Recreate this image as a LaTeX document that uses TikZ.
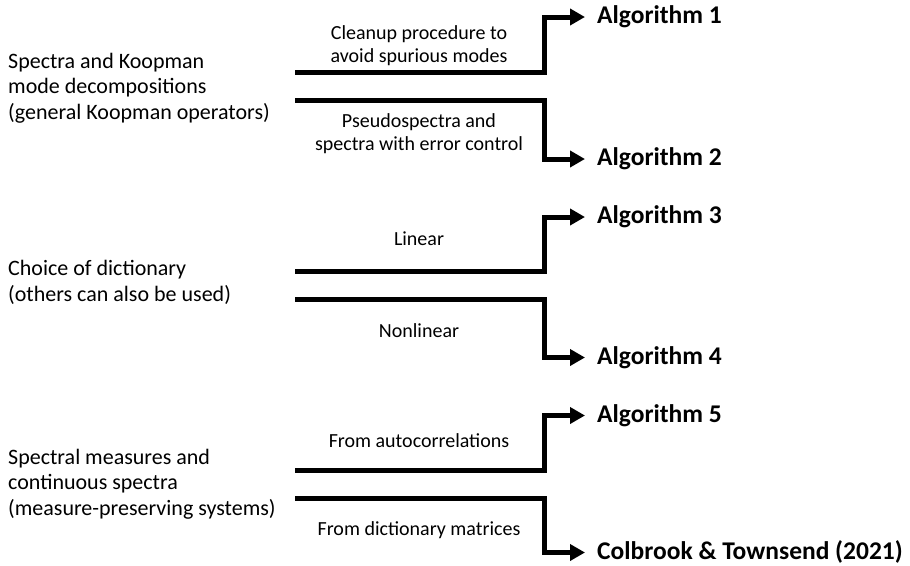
\documentclass[tikz,border=0pt]{standalone}
\usepackage{fontspec}
\setmainfont{Carlito}
\usetikzlibrary{arrows.meta}
\begin{document}
\begin{tikzpicture}[x=1pt,y=-1pt,
  lefttxt/.style={anchor=base west, inner sep=0pt, font=\fontsize{22}{25}\selectfont},
  midtxt/.style={anchor=base, inner sep=0pt, font=\fontsize{20}{24}\selectfont},
  algtxt/.style={anchor=base west, inner sep=0pt, text height=18pt, text depth=5pt, font=\fontsize{25.5}{30}\selectfont\bfseries},
  conn/.style={line width=5pt, -{Triangle[length=15pt,width=16pt]}, shorten >=12pt}]
\useasboundingbox (0,0) rectangle (910,565);

% left descriptions
\node[lefttxt] (l1a) at (8,68) {Spectra and Koopman};
\node[lefttxt] (l1b) at (8,93.5) {mode decompositions};
\node[lefttxt] (l1c) at (8,119) {(general Koopman operators)};
\node[lefttxt] (l2a) at (8,275) {Choice of dictionary};
\node[lefttxt] (l2b) at (8,301) {(others can also be used)};
\node[lefttxt] (l3a) at (8,464) {Spectral measures and};
\node[lefttxt] (l3b) at (8,489.5) {continuous spectra};
\node[lefttxt] (l3c) at (8,515) {(measure-preserving systems)};

% targets
\node[algtxt] (a1) at (597,23.5) {Algorithm 1};
\node[algtxt] (a2) at (597,165.5) {Algorithm 2};
\node[algtxt] (a3) at (597,223.5) {Algorithm 3};
\node[algtxt] (a4) at (597,364) {Algorithm 4};
\node[algtxt] (a5) at (597,422) {Algorithm 5};
\node[algtxt] (a6) at (597,559) {Colbrook \& Townsend (2021)};

% connector starts
\coordinate (s1) at (295,72);
\coordinate (s2) at (295,100);
\coordinate (s3) at (295,271);
\coordinate (s4) at (295,299);
\coordinate (s5) at (295,470);
\coordinate (s6) at (295,498);

\draw[conn] (s1) -- ++(249,0) |- (a1.west);
\draw[conn] (s2) -- ++(249,0) |- (a2.west);
\draw[conn] (s3) -- ++(249,0) |- (a3.west);
\draw[conn] (s4) -- ++(249,0) |- (a4.west);
\draw[conn] (s5) -- ++(249,0) |- (a5.west);
\draw[conn] (s6) -- ++(249,0) |- (a6.west);

% connector labels
\node[midtxt] (m1a) at (419,39) {Cleanup procedure to};
\node[midtxt] (m1b) at (419,62) {avoid spurious modes};
\node[midtxt] (m2a) at (419,127.5) {Pseudospectra and};
\node[midtxt] (m2b) at (419,150) {spectra with error control};
\node[midtxt] (m3) at (419,245) {Linear};
\node[midtxt] (m4) at (419,337) {Nonlinear};
\node[midtxt] (m5) at (419,447) {From autocorrelations};
\node[midtxt] (m6) at (419,535) {From dictionary matrices};
\end{tikzpicture}
\end{document}
